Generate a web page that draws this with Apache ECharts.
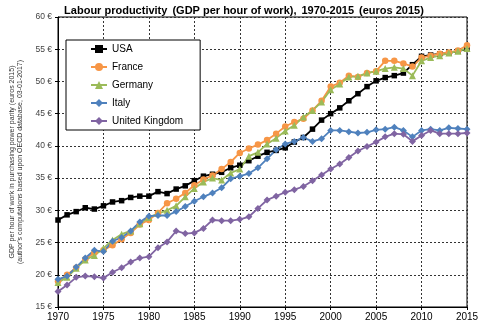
<!DOCTYPE html>
<html><head><meta charset="utf-8">
<script src="https://cdn.jsdelivr.net/npm/echarts@6/dist/echarts.min.js"></script>
<style>html,body{margin:0;padding:0;background:#fff}#c{width:488px;height:328px}</style>
</head><body><div id="c"></div>
<script>
var years = [];
for (var y = 1970; y <= 2015; y++) years.push(y);
var usa = [28.5,29.3,29.8,30.4,30.2,30.7,31.3,31.5,32.0,32.2,32.2,32.9,32.6,33.3,33.8,34.6,35.3,35.6,35.9,36.6,37.0,37.7,38.4,39.0,39.3,39.7,40.6,41.3,42.6,44.0,45.0,45.9,47.0,48.1,49.2,50.1,50.6,50.9,51.3,52.6,53.9,54.1,54.3,54.4,54.7,55.0];
var france = [19.0,20.0,21.1,22.4,23.4,23.8,24.6,25.5,26.5,27.8,28.5,29.6,31.1,31.8,32.7,33.9,34.8,35.4,36.4,37.5,38.9,39.6,40.2,40.9,41.9,43.0,43.7,44.2,45.5,47.0,49.2,49.8,50.9,50.7,51.3,51.6,53.2,53.2,52.8,52.3,53.7,54.0,54.3,54.5,54.8,55.6];
var germany = [18.8,19.6,21.0,22.3,23.0,24.1,25.4,26.3,26.8,27.9,28.9,29.5,30.0,30.7,32.1,33.4,34.4,35.0,34.7,35.8,36.4,38.4,39.0,40.3,41.2,42.3,43.2,44.5,45.5,46.8,48.7,49.6,50.7,50.8,51.3,51.6,52.0,52.2,52.0,50.9,53.2,53.7,54.0,54.4,54.7,55.1];
var italy = [19.3,19.8,21.2,22.6,23.8,23.6,25.2,25.8,26.8,28.2,29.1,29.2,29.2,29.8,30.6,31.4,32.1,32.7,33.5,34.9,35.3,35.7,36.6,38.0,39.4,40.3,40.7,41.3,40.7,41.1,42.4,42.4,42.2,42.0,42.1,42.5,42.6,42.9,42.4,41.4,42.4,42.6,42.4,42.8,42.7,42.6];
var uk = [17.4,18.4,19.6,19.8,19.7,19.5,20.4,21.1,22.0,22.6,22.8,24.2,25.1,26.8,26.4,26.5,27.2,28.5,28.4,28.4,28.6,29.0,30.3,31.6,32.2,32.8,33.2,33.7,34.6,35.5,36.4,37.2,38.2,39.2,39.9,40.6,41.4,41.9,41.8,40.7,41.6,42.4,41.9,41.9,41.9,42.0];
var seriesNames = ['USA','France','Germany','Italy','United Kingdom'];
var seriesData = [usa, france, germany, italy, uk];
var colors = ['#000000','#F79646','#9BBB59','#4F81BD','#8064A2'];
var symbols = ['rect','circle','triangle','diamond','diamond'];
var symbolSizes = [5.5,6.5,7,7,7];
var yAxisName = "GDP per hour of work in purchasing power parity (euros 2015)\n(author's computations based upon OECD database, 03-01-2017)";

var FONT = 'Liberation Sans, Arial, sans-serif';
var chart = echarts.init(document.getElementById('c'), null, {renderer:'canvas'});
var series = seriesNames.map(function(n, i){
  return {
    name: n, type: 'line',
    data: years.map(function(yr, k){ return [yr, seriesData[i][k]]; }),
    symbol: symbols[i], symbolSize: symbolSizes[i],
    lineStyle: {color: colors[i], width: 1.8},
    itemStyle: {color: colors[i]},
    animation: false
  };
});
chart.setOption({
  animation: false,
  textStyle: {fontFamily: FONT},
  title: {
    text: '{b|Labour productivity} {n|(GDP per hour of work),} {b|1970-2015} {n|(euros 2015)}',
    left: 'center', top: 2, padding: 0,
    textStyle: {rich: {
      b: {fontFamily: FONT, fontWeight: 'bold', fontSize: 11, color: '#000'},
      n: {fontFamily: FONT, fontSize: 11, color: '#000'}
    }}
  },
  legend: {
    orient: 'vertical', left: 66, top: 40,
    padding: [3, 17, 3, 24],
    borderColor: '#000', borderWidth: 1, backgroundColor: '#fff',
    itemWidth: 16, itemHeight: 10, itemGap: 6,
    textStyle: {fontFamily: FONT, fontSize: 10, color: '#000', lineHeight: 12},
    data: seriesNames
  },
  grid: {left: 47, top: 17, right: 21, bottom: 21, show: true, borderColor: '#000', borderWidth: 1, containLabel: false},
  xAxis: {
    type: 'value', min: 1970, max: 2015, interval: 5,
    axisLine: {lineStyle: {color: '#000', width: 1}},
    axisTick: {show: true, length: 3, lineStyle: {color: '#000'}},
    axisLabel: {color: '#000', fontSize: 10, margin: 5, formatter: function(v){return String(v);}},
    splitLine: {show: true, lineStyle: {color: '#333', type: [2,2], width: 1}}
  },
  yAxis: {
    type: 'value', min: 15, max: 60, interval: 5,
    name: yAxisName, nameLocation: 'middle', nameGap: 34, nameRotate: 90,
    nameTextStyle: {fontSize: 7, color: '#333', lineHeight: 8, fontFamily: FONT},
    axisLine: {show: true, lineStyle: {color: '#000', width: 1}},
    axisTick: {show: true, length: 3, lineStyle: {color: '#000'}},
    axisLabel: {color: '#444', fontSize: 8.5, margin: 6, formatter: function(v){return v + ' €';}},
    splitLine: {show: true, lineStyle: {color: '#333', type: [2,2], width: 1}}
  },
  series: series
});
</script></body></html>
